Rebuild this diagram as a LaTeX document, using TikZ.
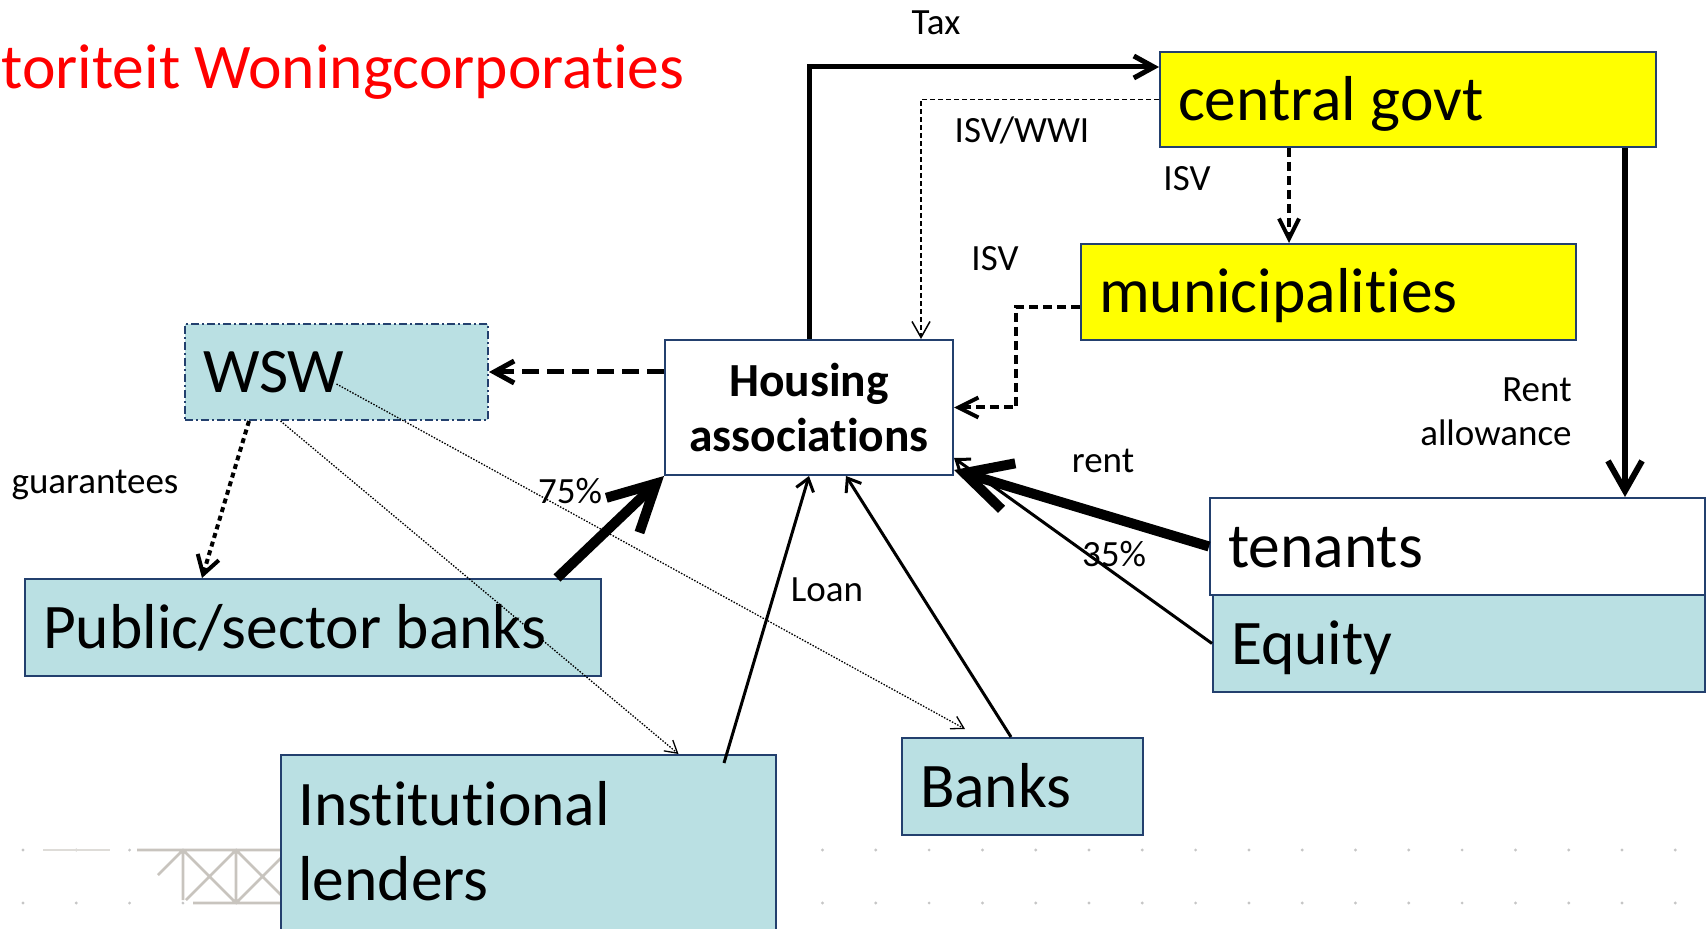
\documentclass[tikz,border=0pt]{standalone}
\usepackage{fontspec}
\setmainfont[Ligatures=NoCommon]{Carlito}
\usepackage{xcolor}
\usetikzlibrary{arrows.meta}

\definecolor{boxline}{RGB}{35,64,110}
\definecolor{govyellow}{RGB}{255,255,0}
\definecolor{paleblue}{RGB}{186,224,227}
\definecolor{truss}{RGB}{200,196,190}

\newcommand{\boxfont}{\fontsize{31.75pt}{37.5pt}\selectfont}
\newcommand{\hafont}{\bfseries\fontsize{23.75pt}{27.5pt}\selectfont}
\newcommand{\lblfont}{\fontsize{18.5pt}{22pt}\selectfont}

\begin{document}
\begin{tikzpicture}[
    x=0.5pt, y=-0.5pt,
    panel/.style={rectangle, draw=boxline, line width=1pt, inner xsep=9pt, inner ysep=0pt, anchor=north west},
    box/.style={panel, align=flush left, font=\boxfont, text height=22.2pt, text depth=1.2pt},
    lbl/.style={font=\lblfont, anchor=base, inner sep=0pt},
    flow/.style={line width=2.5pt, -{Straight Barb[length=10pt, width=11pt]}},
    bigflow/.style={line width=5pt, -{Straight Barb[length=23pt, width=24pt]}},
    thinflow/.style={line width=1.5pt, -{Straight Barb[length=6pt, width=9pt]}},
    isv/.style={line width=2pt, dash pattern=on 4.5pt off 2.5pt, -{Straight Barb[length=10pt, width=10pt]}},
    hint/.style={line width=0.65pt, dash pattern=on 0.75pt off 0.75pt, -{Straight Barb[length=6pt, width=7pt]}}
]
    \useasboundingbox (0,0) rectangle (1707,929);

    % Slide background: dotted rules and bridge truss
    \foreach \k in {0,...,31} {
        \fill[gray!45] (23+53.3*\k,850) circle (0.8pt);
        \fill[gray!45] (23+53.3*\k,903) circle (0.8pt);
    }
    \draw[truss!60, line width=1pt] (43,850) -- (110,850);
    \draw[truss, line width=1.3pt] (137,850) -- (300,850) (193,903) -- (300,903)
        (183,850) -- (183,900) (236,850) -- (236,903)
        (158,875) -- (183,850) (183,850) -- (236,903) (236,850) -- (186,900)
        (236,850) -- (289,903) (289,850) -- (236,903);

    % Title
    \node[font=\boxfont, text=red, anchor=base west, inner sep=0pt] (title) at (1,89) {toriteit Woningcorporaties};

    % Nodes
    \node[box, fill=govyellow, text width=230pt, minimum height=47.5pt] (cg) at (1159,51) {central govt};
    \node[box, fill=govyellow, text width=229.5pt, minimum height=48pt] (muni) at (1080,243) {municipalities};
    \node[panel, fill=white, font=\hafont, align=center, text width=126pt, minimum height=67.5pt] (ha) at (664,339) {Housing\\associations};
    \node[box, fill=paleblue, draw=boxline, dash pattern=on 4pt off 1.5pt on 1pt off 1.5pt, text width=133.5pt, minimum height=48pt] (wsw) at (184,323) {WSW};
    \node[box, fill=paleblue, text width=270pt, minimum height=48.5pt] (psb) at (24,578) {Public/sector banks};
    \node[panel, fill=paleblue, minimum width=247.5pt, minimum height=125pt] (lenders) at (280,754) {};
    \node[font=\boxfont, align=flush left, anchor=north west, inner sep=0pt] (lenderstext) at (298,781) {Institutional\\lenders};
    \node[box, fill=paleblue, text width=102.5pt, minimum height=48.5pt] (banks) at (901,737) {Banks};
    \node[box, fill=white, text width=229.5pt, minimum height=48.5pt] (ten) at (1209,497) {tenants};
    \node[box, fill=paleblue, text width=228pt, minimum height=48.5pt] (eq) at (1212,594) {Equity};

    % Arrows
    \draw[flow] (ha.north) |- ([yshift=-8pt]cg.north west);
    \draw[line width=0.75pt, dash pattern=on 2.5pt off 1.5pt, -{Straight Barb[length=8pt, width=9pt]}] (cg.west) -| ([xshift=56pt]ha.north);
    \coordinate (isvtop) at ([xshift=-59.5pt]cg.south);
    \draw[isv] (isvtop) -- (isvtop |- muni.north);
    \draw[isv] ([yshift=-7.5pt]muni.west) -- ++(-64,0) |- (ha.east);
    \draw[line width=2.5pt, dash pattern=on 8.5pt off 4pt, -{Straight Barb[length=10pt, width=11pt]}] (ha.west |- wsw.east) -- (wsw.east);
    \draw[line width=2pt, dash pattern=on 2.5pt off 2pt, -{Straight Barb[length=9pt, width=11pt]}] ([xshift=-43.75pt]wsw.south) -- ([xshift=-55.5pt]psb.north);
    \draw[hint] ([yshift=-6pt]wsw.center) -- ([shift={(32pt,4pt)}]banks.north west);
    \draw[hint] ([xshift=-28pt]wsw.south) -- ([xshift=75pt]lenders.north);
    \draw[bigflow] ([xshift=122pt]psb.north) -- (ha.south west);
    \draw[thinflow] ([shift={(97.75pt,-4.5pt)}]lenders.north) -- (ha.south);
    \draw[thinflow] ([xshift=-5.75pt]banks.north) -- ([xshift=18.5pt]ha.south);
    \draw[thinflow] (eq.west) -- ([yshift=9pt]ha.south east);
    \draw[bigflow] (ten.west) -- ([yshift=3pt]ha.south east);
    \coordinate (rallow) at ([xshift=108.5pt]cg.south);
    \draw[line width=3pt, -{Straight Barb[length=15pt, width=17pt]}] (rallow) -- (rallow |- ten.north);

    % Labels
    \node[lbl] (taxlbl) at (936,35) {Tax};
    \node[lbl] (wwilbl) at (1022,143) {ISV/WWI};
    \node[lbl] (isvlbl) at (1187,191) {ISV};
    \node[lbl] (isvmunilbl) at (995,271) {ISV};
    \node[lbl] (guarlbl) at (95,494) {guarantees};
    \node[lbl] (pctpsb) at (570,504) {75\%};
    \node[lbl] (rentlbl) at (1103,473) {rent};
    \node[lbl] (pcteq) at (1114,567) {35\%};
    \node[lbl] (loanlbl) at (827,602) {Loan};
    \node[font=\lblfont, align=right, anchor=north east, inner sep=0pt] (allowlbl) at (1572,377) {Rent\\allowance};
\end{tikzpicture}
\end{document}
